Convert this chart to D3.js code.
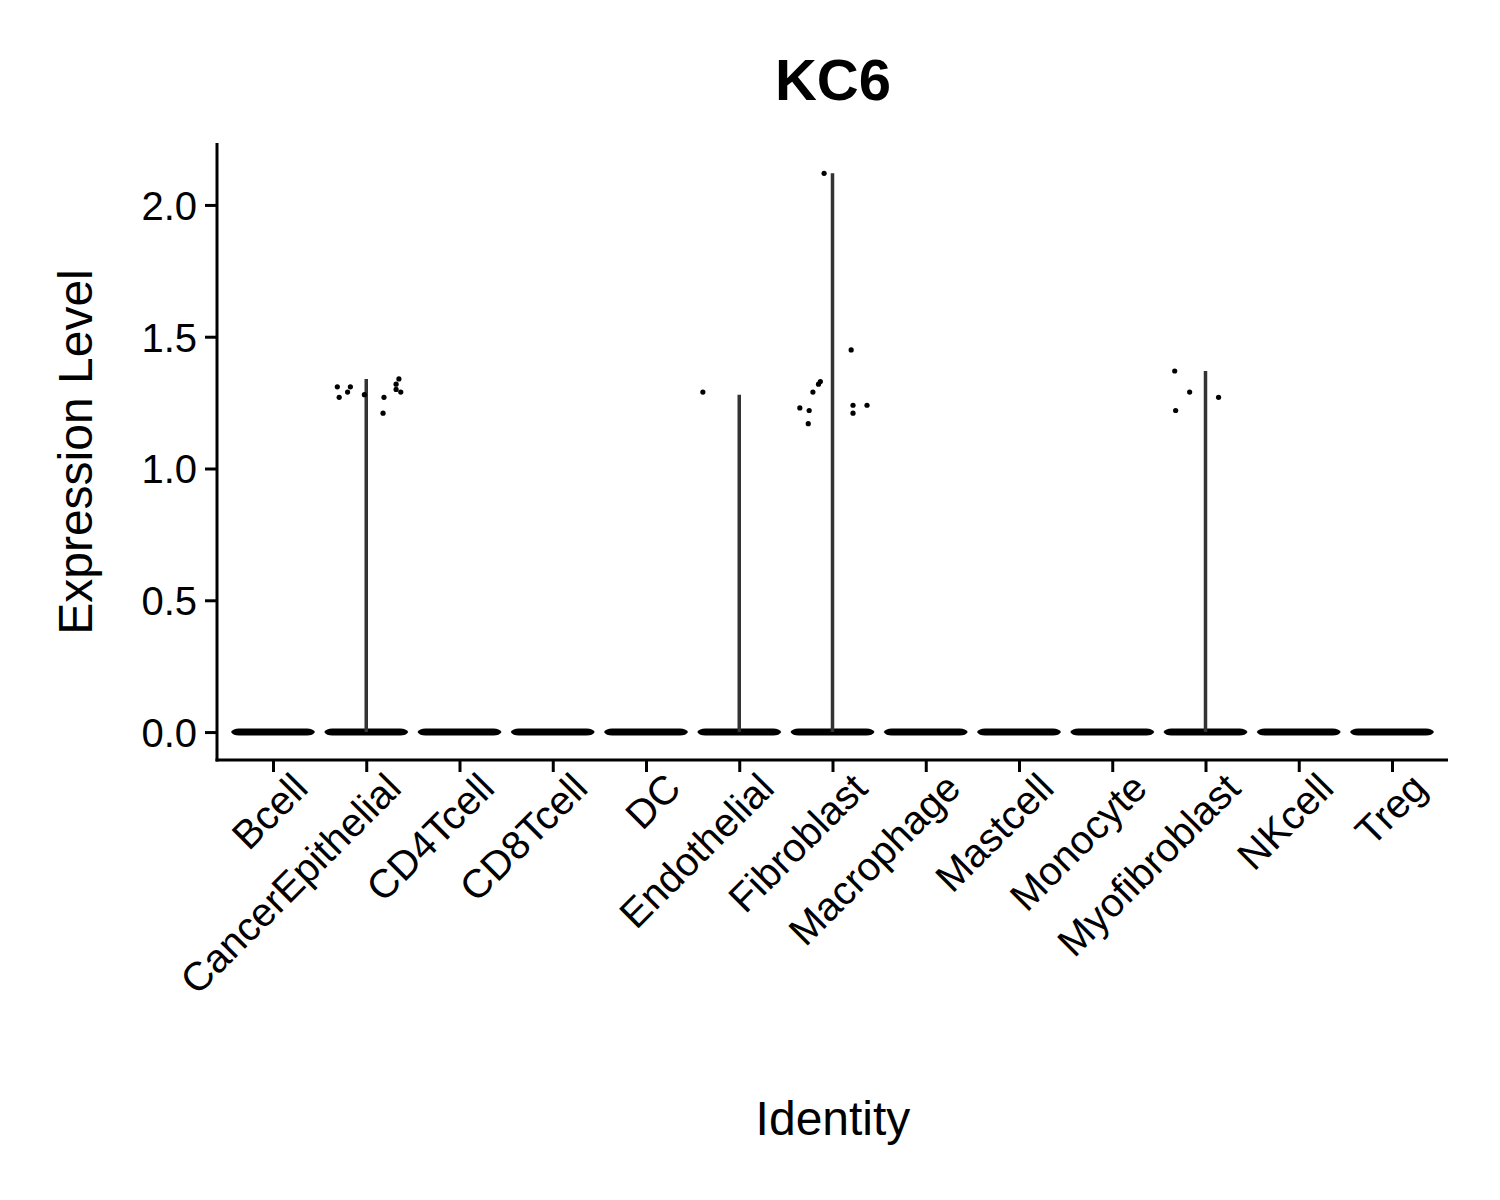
<!DOCTYPE html>
<html><head><meta charset="utf-8">
<script src="https://cdn.jsdelivr.net/npm/d3@7"></script>
<style>body{margin:0;background:#fff}text{font-family:"Liberation Sans",Arial,sans-serif}</style>
</head><body>
<script>
const categories = ["Bcell","CancerEpithelial","CD4Tcell","CD8Tcell","DC","Endothelial","Fibroblast","Macrophage","Mastcell","Monocyte","Myofibroblast","NKcell","Treg"];
const maxValues = [0,1.34,0,0,0,1.28,2.12,0,0,0,1.37,0,0];
const yTicks = [0,0.5,1.0,1.5,2.0];
// jittered points: [category, offset in band units, value]
const points = [
  ["CancerEpithelial",-0.31,1.31],["CancerEpithelial",-0.29,1.27],["CancerEpithelial",-0.20,1.29],
  ["CancerEpithelial",-0.17,1.31],["CancerEpithelial",-0.02,1.28],["CancerEpithelial",0.19,1.27],
  ["CancerEpithelial",0.18,1.21],["CancerEpithelial",0.35,1.34],["CancerEpithelial",0.32,1.32],
  ["CancerEpithelial",0.32,1.30],["CancerEpithelial",0.37,1.29],
  ["Endothelial",-0.39,1.29],
  ["Fibroblast",-0.09,2.12],["Fibroblast",0.20,1.45],["Fibroblast",-0.13,1.33],["Fibroblast",-0.15,1.32],
  ["Fibroblast",-0.21,1.29],["Fibroblast",-0.35,1.23],["Fibroblast",-0.25,1.22],["Fibroblast",-0.26,1.17],
  ["Fibroblast",0.22,1.24],["Fibroblast",0.22,1.21],["Fibroblast",0.37,1.24],
  ["Myofibroblast",-0.33,1.37],["Myofibroblast",-0.17,1.29],["Myofibroblast",-0.32,1.22],["Myofibroblast",0.14,1.27]
];

const svg = d3.select("body").append("svg").attr("width",1500).attr("height",1200);
const m = {left:217, right:1448, top:143, bottom:760};
const x0 = d3.scalePoint().domain(categories).range([273,1392]);
const y = d3.scaleLinear().domain([-0.106,2.235]).range([m.bottom, m.top]);
const bw = 93.3;

svg.append("text").attr("x",833).attr("y",100).attr("text-anchor","middle")
  .attr("font-size",58).attr("font-weight","bold").text("KC6");

const g = svg.append("g");
categories.forEach((c,i)=>{
  const cx = x0(c), mx = maxValues[i];
  g.append("path").attr("d",
    `M${cx-42},${y(0)} Q${cx-40},${y(0)-3.5} ${cx-34},${y(0)-3.5} L${cx+34},${y(0)-3.5} Q${cx+40},${y(0)-3.5} ${cx+42},${y(0)} Q${cx+40},${y(0)+3.5} ${cx+34},${y(0)+3.5} L${cx-34},${y(0)+3.5} Q${cx-40},${y(0)+3.5} ${cx-42},${y(0)}Z`)
    .attr("fill","#000");
  if (mx>0) g.append("line").attr("x1",cx).attr("x2",cx).attr("y1",y(0)).attr("y2",y(mx))
    .attr("stroke","#333").attr("stroke-width",3.5);
});
g.selectAll("circle.pt").data(points).join("circle")
  .attr("cx",d=>x0(d[0])+d[1]*bw).attr("cy",d=>y(d[2])).attr("r",2.6).attr("fill","#000");

const yAxis = svg.append("g").attr("transform",`translate(${m.left},0)`)
  .call(d3.axisLeft(y).tickValues(yTicks).tickFormat(d3.format(".1f")).tickSize(12).tickPadding(8));
const xAxis = svg.append("g").attr("transform",`translate(0,${m.bottom})`)
  .call(d3.axisBottom(x0).tickSize(12).tickPadding(6));
[yAxis,xAxis].forEach(a=>{
  a.attr("font-size",null);
  a.select(".domain").attr("stroke-width",3).attr("d", a===yAxis ? `M0,${m.top}V${m.bottom+1.5}` : `M${m.left-1.5},0H${m.right}`);
  a.selectAll(".tick line").attr("stroke-width",3);
  a.selectAll(".tick text").style("font-size","40px").attr("fill","#000");
});
yAxis.selectAll(".tick text").attr("dy","0.36em");
xAxis.selectAll(".tick text").attr("text-anchor","end").attr("dy","0.7em")
  .attr("transform","translate(4,-2) rotate(-45)");

svg.append("text").attr("x",833).attr("y",1135).attr("text-anchor","middle").style("font-size","48px").text("Identity");
svg.append("text").attr("transform","translate(92,452) rotate(-90)").attr("text-anchor","middle").style("font-size","48px").text("Expression Level");
</script>
</body></html>
